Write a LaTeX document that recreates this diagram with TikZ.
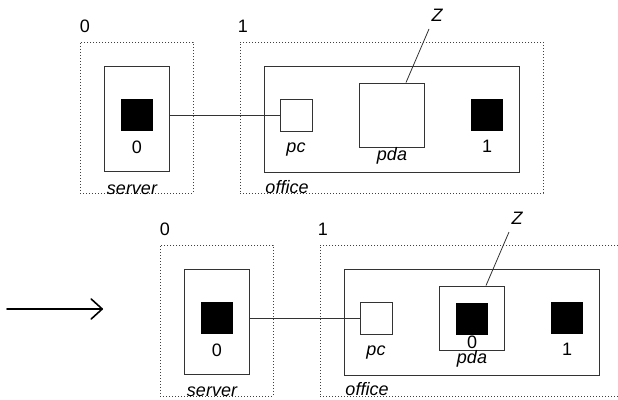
\documentclass[tikz,border=0pt]{standalone}
\usepackage{fontspec}
\setmainfont{Liberation Sans}
\usetikzlibrary{arrows.meta,calc}
\begin{document}
\begin{tikzpicture}[x=1pt,y=-1pt,
  every node/.style={font=\fontsize{18}{20}\selectfont},
  zone/.style={draw=black!75, line width=0.8pt, dash pattern=on 0.8pt off 2.2pt, minimum width=#1, inner sep=0pt, rectangle},
  solidbox/.style={draw=black!80, line width=0.9pt, inner sep=0pt, rectangle},
  blk/.style={fill=black, minimum size=32pt, inner sep=0pt},
  wbox/.style={draw=black!80, fill=white, line width=0.9pt, inner sep=0pt},
  lbl/.style={anchor=base, inner sep=0pt},
  ilbl/.style={anchor=base, inner sep=0pt, font=\fontsize{18}{20}\selectfont\itshape},
  link/.style={draw=black!80, line width=0.8pt}]
\useasboundingbox (0,0) rectangle (618,399);
\clip (0,0) rectangle (618,399);
% ---------- top ----------
\node[zone=113pt, minimum height=151pt] (az0) at (136.5,117.5) {};
\node[zone=303pt, minimum height=151pt] (az1) at (391.5,117.5) {};
\node[lbl] (an0) at (85,32) {0};
\node[lbl] (an1) at (243,32) {1};
\node[solidbox, minimum width=65pt, minimum height=105pt] (asrv) at (136.5,118.5) {};
\node[blk] (ab0) at (137,115) {};
\node[lbl] (al0) at (137,153) {0};
\node[ilbl] (aserver) at (132,194) {server};
\node[solidbox, minimum width=255pt, minimum height=106pt] (aoff) at (391.5,119) {};
\node[wbox, minimum size=32pt] (apc) at (296,115) {};
\node[ilbl] (apcl) at (296,152) {pc};
\node[wbox, minimum width=65pt, minimum height=64pt] (apda) at (391.5,115) {};
\node[ilbl] (apdal) at (392,160) {pda};
\node[blk] (ab1) at (487,115) {};
\node[lbl] (al1) at (487,152) {1};
\node[ilbl] (aoffl) at (287,193) {office};
\node[ilbl] (az) at (437,21) {Z};
\coordinate (azend) at (429,29);
\draw[link] (apc.west) -- (apc.west -| asrv.east);
\draw[link] ($(apda.north west)!0.72!(apda.north east)$) -- (azend);
% ---------- arrow ----------
\coordinate (arrs) at (7,309);
\coordinate (arre) at (103,309);
\draw[line width=1.6pt, line cap=round, -{Straight Barb[length=11pt,width=20pt,line width=1.6pt,round]}] (arrs) -- (arre);
% ---------- bottom ----------
\begin{scope}[shift={(80,203)}]
\node[zone=113pt, minimum height=151pt] (bz0) at (136.5,117.5) {};
\node[zone=303pt, minimum height=151pt] (bz1) at (391.5,117.5) {};
\node[lbl] (bn0) at (85,32) {0};
\node[lbl] (bn1) at (243,32) {1};
\node[solidbox, minimum width=65pt, minimum height=105pt] (bsrv) at (136.5,118.5) {};
\node[blk] (bb0) at (137,115) {};
\node[lbl] (bl0) at (137,153) {0};
\node[ilbl] (bserver) at (132,193) {server};
\node[solidbox, minimum width=255pt, minimum height=106pt] (boff) at (391.5,119) {};
\node[wbox, minimum size=32pt] (bpc) at (296,115) {};
\node[ilbl] (bpcl) at (296,152) {pc};
\node[wbox, minimum width=65pt, minimum height=64pt] (bpda) at (391.5,115) {};
\node[blk] (bpb) at (392,116) {};
\node[lbl] (bpl) at (392,145) {0};
\node[ilbl] (bpdal) at (392,160) {pda};
\node[blk] (bb1) at (487,115) {};
\node[lbl] (bl1) at (487,152) {1};
\node[ilbl] (boffl) at (287,192) {office};
\node[ilbl] (bz) at (437,21) {Z};
\coordinate (bzend) at (429,29);
\end{scope}
\draw[link] (bpc.west) -- (bpc.west -| bsrv.east);
\draw[link] ($(bpda.north west)!0.72!(bpda.north east)$) -- (bzend);
\end{tikzpicture}
\end{document}
